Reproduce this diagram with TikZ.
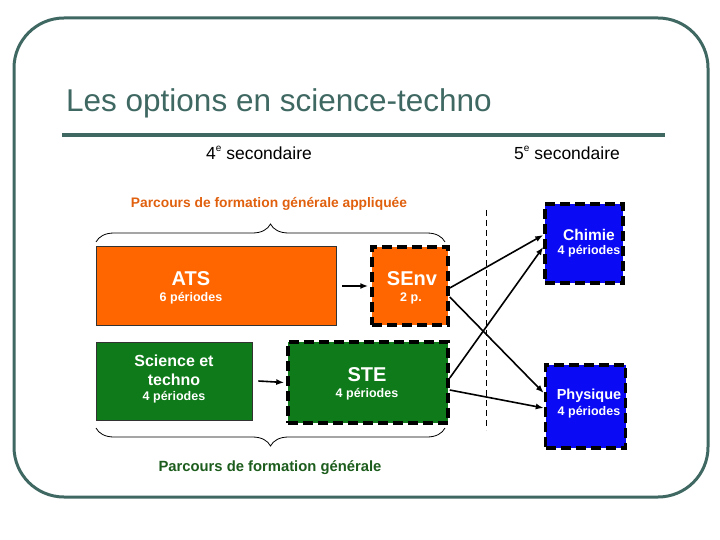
\documentclass[tikz,border=0pt]{standalone}
\usepackage{fontspec}
\setmainfont{Liberation Sans}
\usetikzlibrary{decorations.pathreplacing,arrows.meta}
\definecolor{frame}{HTML}{3F6862}
\definecolor{orng}{HTML}{FF6600}
\definecolor{grn}{HTML}{0F7A1A}
\definecolor{blu}{HTML}{0A0AF5}
\definecolor{otext}{HTML}{E0600E}
\definecolor{gtext}{HTML}{1C5C1C}
\newcommand{\supe}{\raisebox{0.45em}{\fontsize{10}{10}\selectfont e}}
\tikzset{
  solidbox/.style={draw=black!80, line width=0.7pt, inner sep=0pt},
  dashbox/.style={draw=black, line width=3.5pt, dash pattern=on 10pt off 5pt, inner sep=0pt},
  big/.style={text=white, font=\bfseries\fontsize{20}{22}\selectfont, inner sep=0pt},
  mid/.style={text=white, font=\bfseries\fontsize{16}{18}\selectfont, inner sep=0pt},
  small/.style={text=white, font=\bfseries\fontsize{12.5}{14}\selectfont, inner sep=0pt},
  conn/.style={-{Latex[length=8pt,width=6pt]}, line width=1.6pt},
  bracestyle/.style={decorate, decoration={brace, amplitude=18pt}, line width=0.8pt}
}
\begin{document}
\begin{tikzpicture}[x=1pt,y=-1pt]
\useasboundingbox (0,0) rectangle (720,540);
% frame
\draw[frame, line width=3pt, rounded corners=50pt] (14,18) rectangle (708,497);
% title
\node[anchor=base west, text=frame, font=\fontsize{31.5}{34}\selectfont, inner sep=0pt] (title) at (66,112) {Les options en science-techno};
\draw[frame, line width=4.5pt] (62,135) -- (665,135);
\node[font=\fontsize{17.5}{20}\selectfont, inner sep=0pt] (sec4) at (259,153) {4\supe\ secondaire};
\node[font=\fontsize{17.5}{20}\selectfont, inner sep=0pt] (sec5) at (567,153) {5\supe\ secondaire};
% orange label
\node[text=otext, font=\bfseries\fontsize{13.8}{16}\selectfont, inner sep=0pt] (pfga) at (269,204) {Parcours de formation générale appliquée};
\coordinate (tb1) at (96,242);
\coordinate (tb2) at (445,242);
\draw[bracestyle] (tb1) -- (tb2);
% boxes
\node[solidbox, fill=orng, minimum width=240pt, minimum height=79pt] (ats) at (216,285.5) {};
\node[dashbox, fill=orng, minimum width=76pt, minimum height=78pt] (senv) at (410,286) {};
\node[solidbox, fill=grn, minimum width=156pt, minimum height=78pt] (sci) at (174,381) {};
\node[dashbox, fill=grn, minimum width=160pt, minimum height=81pt] (ste) at (368,382.5) {};
\node[dashbox, fill=blu, minimum width=78pt, minimum height=79pt] (chim) at (584,243.5) {};
\node[dashbox, fill=blu, minimum width=80pt, minimum height=83pt] (phys) at (585.5,406.5) {};
% texts
\node[big] (atst) at (191,279) {ATS};
\node[small] (atsp) at (191,298) {6 périodes};
\node[big] (senvt) at (412,279) {SEnv};
\node[small] (senvp) at (411,298) {2 p.};
\node[mid] (scit1) at (174,361) {Science et};
\node[mid] (scit2) at (174,380) {techno};
\node[small] (scip) at (174,397) {4 périodes};
\node[big] (stet) at (367,375) {STE};
\node[small] (step1) at (367,394) {4 périodes};
\node[text=white, font=\bfseries\fontsize{15.5}{18}\selectfont, inner sep=0pt] (chimt) at (589,235) {Chimie};
\node[small] (chimp) at (589,251) {4 périodes};
\node[text=white, font=\bfseries\fontsize{14.5}{17}\selectfont, inner sep=0pt] (physt) at (589,396) {Physique};
\node[small] (physp) at (589,412) {4 périodes};
% bottom brace
\coordinate (bb1) at (445,428);
\coordinate (bb2) at (96,428);
\draw[bracestyle] (bb1) -- (bb2);
\node[text=gtext, font=\bfseries\fontsize{14.8}{17}\selectfont, inner sep=0pt] (pfg) at (270,468) {Parcours de formation générale};
% dashed separator
\coordinate (d1) at (486,210);
\coordinate (d2) at (486,430);
\draw[line width=0.8pt, dash pattern=on 6pt off 4pt] (d1) -- (d2);
% arrows
\draw[conn] ([xshift=6pt]ats.east |- senv.west) -- ([xshift=-2pt]senv.west);
\draw[conn] ([xshift=6pt]sci.east) -- ([xshift=-2pt]ste.west);
\draw[conn] ([yshift=-2pt]senv.east) -- ([yshift=8.5pt]chim.west);
\draw[conn] ([yshift=-11pt]senv.east) -- ([yshift=13.5pt]phys.west);
\draw[conn] ([yshift=4.5pt]ste.east) -- ([yshift=-3.5pt]chim.west);
\draw[conn] ([yshift=-7.5pt]ste.east) -- ([yshift=-1.5pt]phys.west);
\end{tikzpicture}
\end{document}
